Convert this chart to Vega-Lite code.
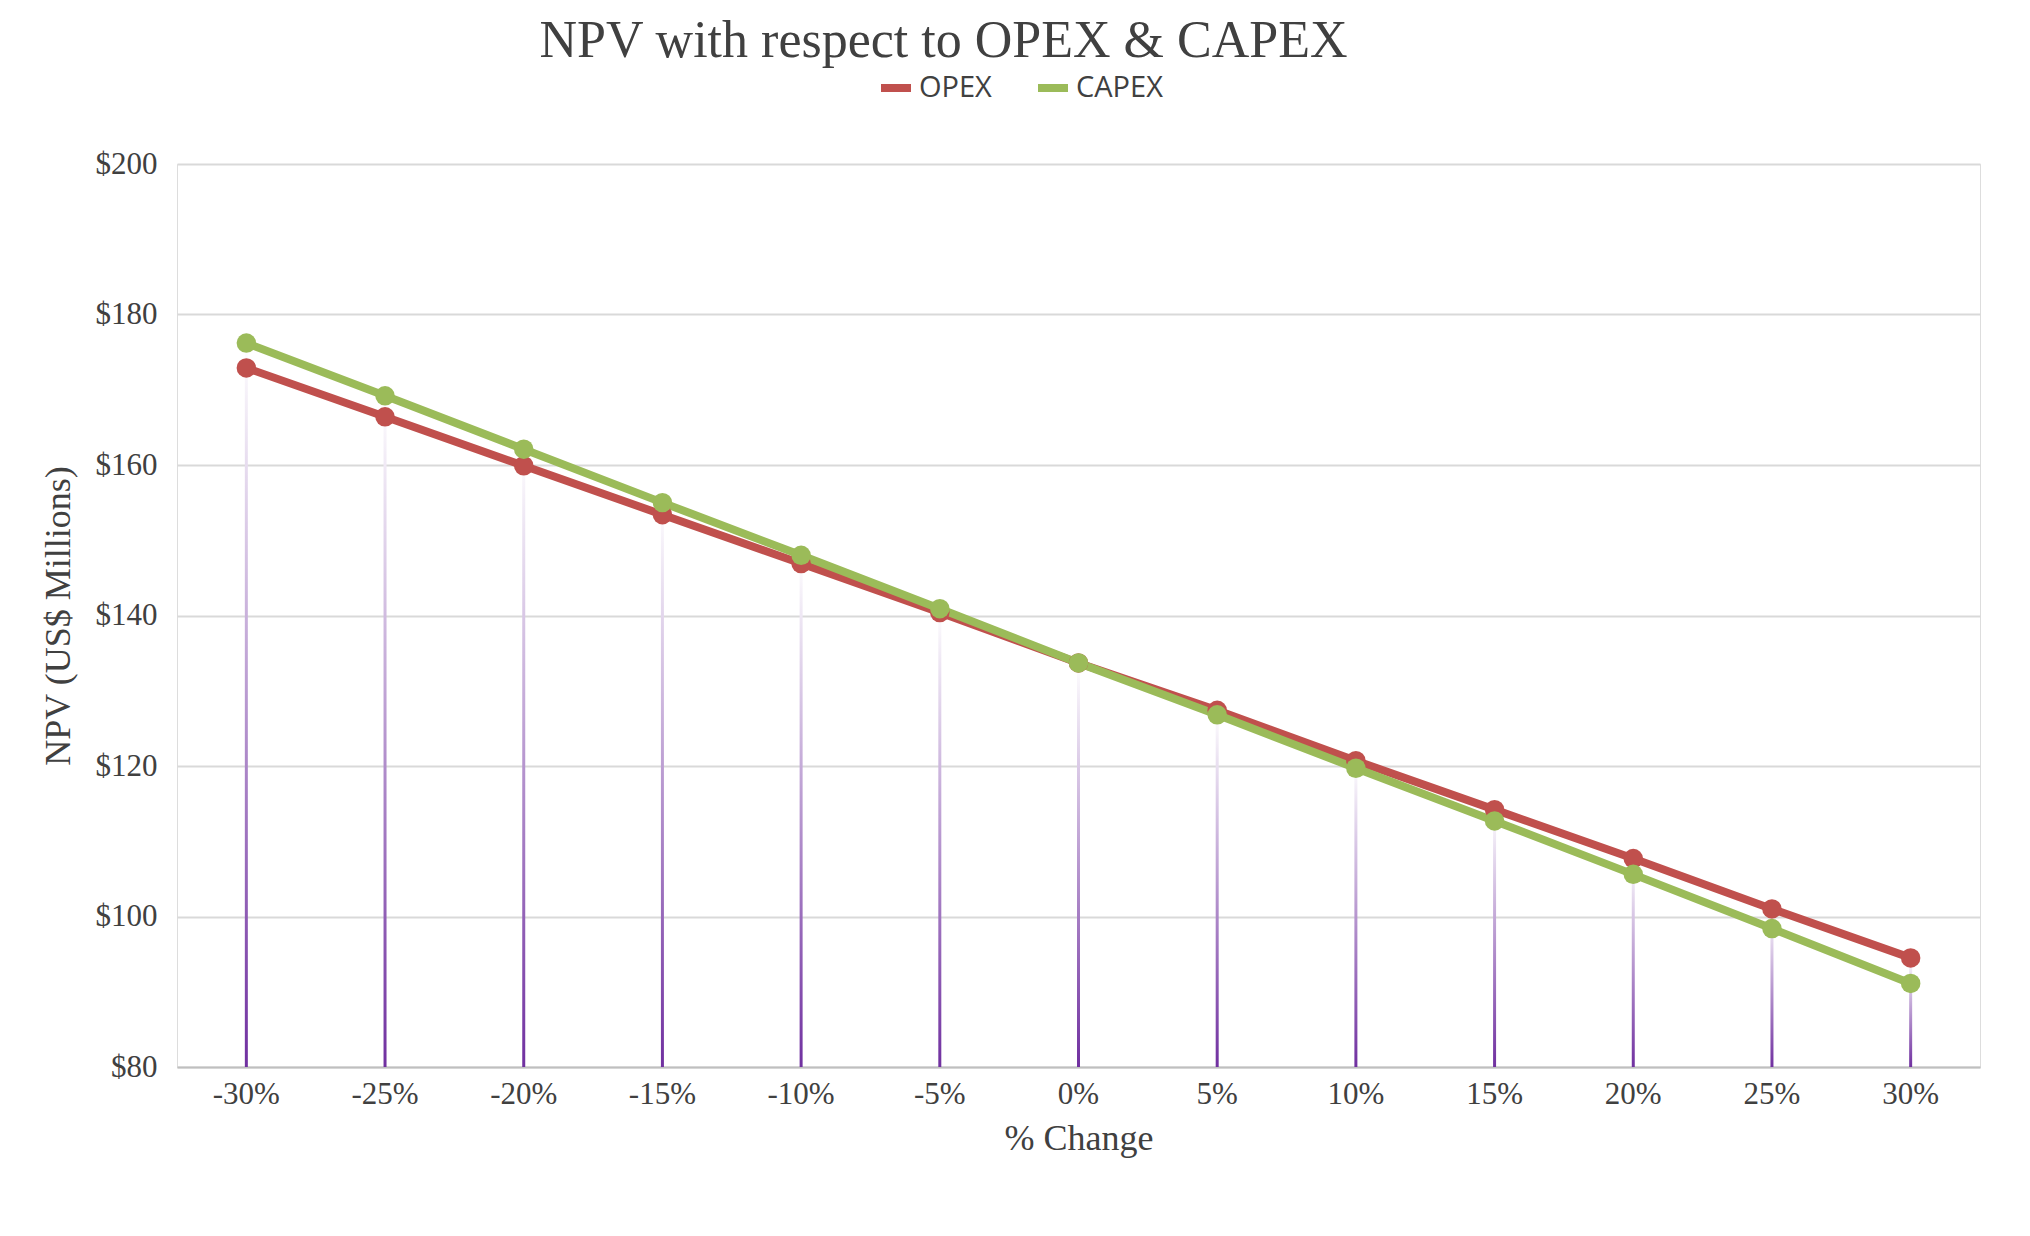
{
  "$schema": "https://vega.github.io/schema/vega-lite/v6.json",
  "width": 2030,
  "height": 1236,
  "autosize": {"type": "fit", "contains": "padding"},
  "padding": {"left": 40, "right": 50, "top": 15, "bottom": 80},
  "background": "white",
  "title": {
    "text": "NPV with respect to OPEX & CAPEX",
    "font": "Liberation Serif",
    "fontSize": 52,
    "fontWeight": "normal",
    "color": "#404040",
    "anchor": "middle",
    "dx": -135,
    "offset": 80
  },
  "datasets": {
    "npv": [
      {"change": "-30%", "series": "OPEX", "npv": 172.9},
      {"change": "-25%", "series": "OPEX", "npv": 166.4},
      {"change": "-20%", "series": "OPEX", "npv": 159.9},
      {"change": "-15%", "series": "OPEX", "npv": 153.4},
      {"change": "-10%", "series": "OPEX", "npv": 146.9},
      {"change": "-5%", "series": "OPEX", "npv": 140.4},
      {"change": "0%", "series": "OPEX", "npv": 133.7},
      {"change": "5%", "series": "OPEX", "npv": 127.4},
      {"change": "10%", "series": "OPEX", "npv": 120.7},
      {"change": "15%", "series": "OPEX", "npv": 114.2},
      {"change": "20%", "series": "OPEX", "npv": 107.7},
      {"change": "25%", "series": "OPEX", "npv": 101.0},
      {"change": "30%", "series": "OPEX", "npv": 94.5},
      {"change": "-30%", "series": "CAPEX", "npv": 176.2},
      {"change": "-25%", "series": "CAPEX", "npv": 169.2},
      {"change": "-20%", "series": "CAPEX", "npv": 162.1},
      {"change": "-15%", "series": "CAPEX", "npv": 155.0},
      {"change": "-10%", "series": "CAPEX", "npv": 148.0},
      {"change": "-5%", "series": "CAPEX", "npv": 140.9},
      {"change": "0%", "series": "CAPEX", "npv": 133.7},
      {"change": "5%", "series": "CAPEX", "npv": 126.8},
      {"change": "10%", "series": "CAPEX", "npv": 119.7},
      {"change": "15%", "series": "CAPEX", "npv": 112.7},
      {"change": "20%", "series": "CAPEX", "npv": 105.6},
      {"change": "25%", "series": "CAPEX", "npv": 98.4},
      {"change": "30%", "series": "CAPEX", "npv": 91.1}
    ],
    "drops": [
      {"change": "-30%", "top": 176.2},
      {"change": "-25%", "top": 169.2},
      {"change": "-20%", "top": 162.1},
      {"change": "-15%", "top": 155.0},
      {"change": "-10%", "top": 148.0},
      {"change": "-5%", "top": 140.9},
      {"change": "0%", "top": 133.7},
      {"change": "5%", "top": 127.4},
      {"change": "10%", "top": 120.7},
      {"change": "15%", "top": 114.2},
      {"change": "20%", "top": 107.7},
      {"change": "25%", "top": 101.0},
      {"change": "30%", "top": 94.5}
    ]
  },
  "encoding": {
    "x": {
      "field": "change",
      "type": "ordinal",
      "sort": ["-30%", "-25%", "-20%", "-15%", "-10%", "-5%", "0%", "5%", "10%", "15%", "20%", "25%", "30%"],
      "title": "% Change",
      "axis": {
        "labelAngle": 0,
        "labelFont": "Liberation Serif",
        "labelFontSize": 31,
        "labelColor": "#404040",
        "labelPadding": 12,
        "titleFont": "Liberation Serif",
        "titleFontSize": 36,
        "titleFontWeight": "normal",
        "titleColor": "#404040",
        "titlePadding": 12,
        "ticks": false,
        "domainColor": "#BFBFBF",
        "domainWidth": 2,
        "grid": false
      }
    }
  },
  "layer": [
    {
      "data": {"name": "drops"},
      "mark": {
        "type": "bar",
        "size": 3,
        "fill": {
          "gradient": "linear",
          "x1": 0, "y1": 1, "x2": 0, "y2": 0,
          "stops": [
            {"offset": 0, "color": "#7030A0"},
            {"offset": 1, "color": "#FFFFFF"}
          ]
        }
      },
      "encoding": {
        "y": {
          "field": "top",
          "type": "quantitative",
          "scale": {"domain": [80, 200], "zero": false},
          "title": "NPV (US$ Millions)",
          "axis": {
            "values": [80, 100, 120, 140, 160, 180, 200],
            "labelExpr": "'$' + datum.value",
            "labelFont": "Liberation Serif",
            "labelFontSize": 31,
            "labelColor": "#404040",
            "labelPadding": 20,
            "titleFont": "Liberation Serif",
            "titleFontSize": 36,
            "titleFontWeight": "normal",
            "titleColor": "#404040",
            "titlePadding": 18,
            "ticks": false,
            "domain": false,
            "gridColor": "#D9D9D9",
            "gridWidth": 2
          }
        },
        "y2": {"datum": 80}
      }
    },
    {
      "data": {"name": "npv"},
      "mark": {"type": "line", "strokeWidth": 8, "point": {"filled": true, "size": 380}},
      "encoding": {
        "y": {"field": "npv", "type": "quantitative"},
        "color": {
          "field": "series",
          "type": "nominal",
          "sort": ["OPEX", "CAPEX"],
          "scale": {"domain": ["OPEX", "CAPEX"], "range": ["#C0504D", "#9BBB59"]},
          "legend": {
            "title": null,
            "orient": "none",
            "legendX": 700,
            "legendY": -95,
            "direction": "horizontal",
            "labelFont": "Open Sans",
            "labelFontSize": 29,
            "labelColor": "#404040",
            "symbolType": "stroke",
            "symbolStrokeWidth": 8,
            "symbolSize": 900,
            "columnPadding": 30
          }
        }
      }
    }
  ]
}
